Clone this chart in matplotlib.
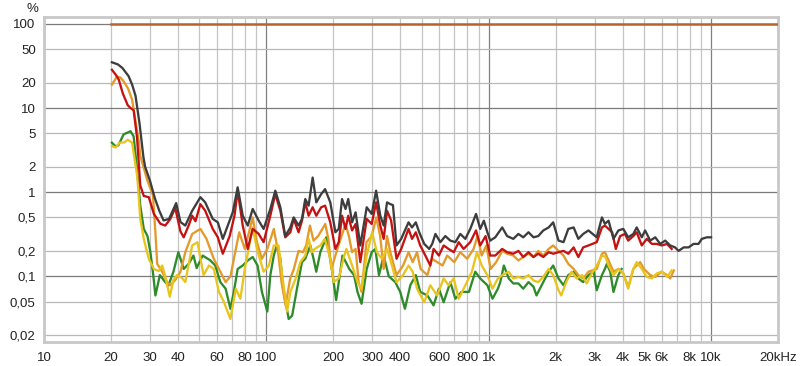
import matplotlib
matplotlib.use("Agg")
import matplotlib.pyplot as plt

# --- data (freq in Hz, level in %) ---
thd_f = [20.2, 21.5, 22.5, 24.0, 24.9, 25.8, 26.9, 28.0, 28.5, 30.0, 31.5, 33.0, 34.5, 36.5, 39.3,
         41.1, 43.2, 46.4, 50.5, 53.1, 57.4, 60.5, 63.7, 67.1, 70.6, 74.3, 78.3, 82.5, 86.8, 92.4,
         97.2, 104.2, 109.7, 115.6, 121.6, 128.2, 132.7, 139.6, 144.6, 149.6, 154.9, 161.5, 167.7,
         176.4, 183.7, 193.9, 204.4, 211.6, 219, 227, 233.5, 243, 252, 264.6, 282.7, 297.8, 311.6,
         325.4, 337, 349, 361, 371, 385, 404, 436, 452, 470, 487, 513, 540, 557, 576, 606, 638, 672,
         708, 745, 785, 826, 877, 916, 951, 986, 1016, 1070, 1150, 1210, 1290, 1360, 1430, 1510,
         1590, 1670, 1760, 1860, 1950, 2060, 2170, 2280, 2410, 2530, 2660, 2810, 3060, 3230, 3330,
         3460, 3640, 3830, 4030, 4240, 4470, 4630, 4880, 5050, 5325, 5610, 5905, 6220, 6550, 6890,
         7140, 7530, 7920, 8340, 8780, 9090, 9570, 10000]
thd_p = [35, 33, 30, 24, 19, 14, 6.5, 2.6, 2.0, 1.35, 0.85, 0.6, 0.46, 0.48, 0.74,
         0.44, 0.40, 0.60, 0.87, 0.755, 0.48, 0.437, 0.278, 0.40, 0.575, 1.14, 0.524, 0.40, 0.63, 0.457,
         0.365, 0.63, 1.04, 0.66, 0.30, 0.38, 0.50, 0.40, 0.48, 0.827, 0.69, 1.49, 0.755,
         0.947, 1.085, 0.755, 0.333, 0.365, 0.827, 0.63, 0.827, 0.437, 0.575, 0.232, 0.66, 0.55, 1.04,
         0.524, 0.40, 0.755, 0.72, 0.70, 0.232, 0.278, 0.437, 0.38, 0.437, 0.333, 0.242, 0.211, 0.242, 0.318, 0.254, 0.30, 0.265,
         0.254, 0.318, 0.278, 0.365, 0.55, 0.365, 0.457, 0.333, 0.265, 0.29, 0.38, 0.30, 0.278, 0.318, 0.29, 0.333,
         0.29, 0.30, 0.35, 0.38, 0.437, 0.265, 0.254, 0.365, 0.38, 0.278, 0.318, 0.35, 0.29, 0.50, 0.42,
         0.457, 0.278, 0.35, 0.365, 0.29, 0.318, 0.38, 0.29, 0.35, 0.265, 0.29, 0.242, 0.265, 0.232, 0.22,
         0.20, 0.22, 0.22, 0.242, 0.242, 0.278, 0.29, 0.29]

h2_f = [20.2, 21.0, 21.7, 22.6, 23.8, 24.5, 25.3, 26.2, 27.1, 28.1, 29.6, 31.2, 33.4, 35.1, 37.0,
        38.9, 41.1, 42.5, 44.7, 46.4, 48.0, 50.5, 53.1, 57.4, 60.5, 63.7, 68.4, 71.9, 74.3, 78.3,
        82.5, 86.8, 92.4, 97.2, 104.2, 109.7, 115.6, 121.6, 128.2, 132.7, 139.6, 144.6, 149.6, 154.9,
        161.5, 167.7, 176.4, 183.7, 193.9, 204.4, 211.6, 219, 227, 233.5, 243, 252, 264.6, 282.7,
        297.8, 311.6, 325.4, 337, 349, 364, 385, 404, 436, 452, 470, 492, 519, 546, 565, 597, 627,
        660, 696, 733, 771, 826, 877, 916, 968, 1016, 1070, 1150, 1210, 1290, 1360, 1430, 1510, 1590,
        1670, 1760, 1860, 1950, 2060, 2170, 2280, 2410, 2530, 2660, 2810, 3060, 3230, 3330, 3460,
        3590, 3730, 3900, 4100, 4240, 4470, 4630, 4880, 5140, 5420, 5700, 6010, 6340, 6650]
h2_p = [28.5, 25, 21.7, 15, 10.8, 10, 9.4, 4.5, 1.2, 0.9, 0.87, 0.55, 0.42, 0.40, 0.48,
        0.65, 0.34, 0.29, 0.40, 0.524, 0.45, 0.72, 0.60, 0.365, 0.29, 0.185, 0.30, 0.524, 1.04, 0.40,
        0.211, 0.365, 0.318, 0.254, 0.524, 0.947, 0.60, 0.29, 0.333, 0.48, 0.333, 0.457, 0.755, 0.524,
        0.66, 0.524, 0.66, 0.69, 0.437, 0.211, 0.254, 0.524, 0.365, 0.524, 0.35, 0.418, 0.147, 0.48,
        0.418, 0.755, 0.40, 0.278, 0.60, 0.46, 0.161, 0.211, 0.365, 0.278, 0.333, 0.232, 0.176, 0.134, 0.211, 0.176, 0.232,
        0.211, 0.193, 0.254, 0.211, 0.254, 0.35, 0.232, 0.30, 0.176, 0.176, 0.211, 0.193, 0.185, 0.20, 0.169, 0.193, 0.169,
        0.185, 0.169, 0.193, 0.185, 0.193, 0.20, 0.185, 0.22, 0.169, 0.22, 0.232, 0.254, 0.38, 0.40, 0.365,
        0.333, 0.211, 0.30, 0.318, 0.265, 0.30, 0.333, 0.232, 0.278, 0.242, 0.242, 0.232, 0.242, 0.211]

h3_f = [20.2, 21.3, 22.1, 22.8, 23.9, 24.9, 25.8, 26.8, 27.1, 29.2, 30.9, 31.7, 32.3, 34.0, 35.8,
        37.0, 38.9, 41.1, 43.2, 46.4, 50.5, 53.8, 58.0, 62.1, 65.6, 69.0, 72.9, 75.5, 80.0, 86.8,
        90.7, 95.5, 101, 108, 113, 117, 122, 128, 132.7, 139.6, 146, 151, 157, 163, 171, 177, 184,
        190, 196, 211, 227, 235, 243, 252, 260, 268, 282, 298, 312, 325, 337, 349, 361, 385, 412,
        436, 455, 476, 494, 530, 556, 620, 650, 700, 745, 800, 855, 890, 930, 975, 1020, 1080, 1150,
        1210, 1290, 1360, 1430, 1510, 1590, 1670, 1760, 1860, 1950, 2060, 2170, 2280, 2410, 2530,
        2660, 2810, 3060, 3230, 3330, 3460, 3640, 3830, 4030, 4240, 4470, 4630, 4800, 4990, 5330,
        5610, 6000, 6340, 6550, 6800]
h3_p = [19, 23.7, 23, 20.8, 17, 12.6, 7, 3.7, 2.7, 1.36, 0.92, 0.33, 0.14, 0.113, 0.085,
        0.078, 0.09, 0.113, 0.193, 0.318, 0.365, 0.278, 0.161, 0.113, 0.085, 0.10, 0.211, 0.333, 0.211, 0.50,
        0.254, 0.161, 0.211, 0.365, 0.193, 0.085, 0.045, 0.094, 0.12, 0.20, 0.193, 0.232, 0.40, 0.265, 0.30, 0.35, 0.418,
        0.278, 0.122, 0.232, 0.418, 0.30, 0.193, 0.211, 0.085, 0.065, 0.254, 0.30, 0.50, 0.30, 0.122, 0.30, 0.193, 0.103, 0.134,
        0.193, 0.147, 0.193, 0.122, 0.103, 0.161, 0.134, 0.176, 0.147, 0.193, 0.161, 0.211, 0.30, 0.176, 0.232, 0.122, 0.147, 0.20,
        0.185, 0.176, 0.154, 0.169, 0.185, 0.169, 0.20, 0.176, 0.211, 0.232, 0.20, 0.176, 0.14, 0.122, 0.103,
        0.094, 0.113, 0.122, 0.185, 0.193, 0.154, 0.113, 0.122, 0.108, 0.074, 0.122, 0.134, 0.147, 0.122, 0.103,
        0.098, 0.113, 0.103, 0.094, 0.117]

h4_f = [20.2, 21.0, 21.6, 22.8, 24.5, 25.3, 26.1, 27.1, 28.1, 29.2, 30.1, 31.0, 31.7, 33.2, 35.1,
        36.3, 38.2, 40.2, 42.5, 44.7, 47.0, 48.6, 51.7, 56.0, 58.9, 62.1, 65.6, 68.9, 71.4, 74.3,
        78.3, 82.5, 86.8, 91.3, 95.5, 101, 104.2, 108, 111.4, 115.6, 119, 126, 130.6, 137.3, 144.6,
        149.6, 157.7, 163, 167.7, 174.9, 186, 196, 206, 215, 220, 236, 248, 257, 268, 282.7, 297.8,
        309, 321, 337, 355, 380, 400, 420, 444, 470, 492, 530, 565, 597, 627, 672, 708, 755, 815,
        870, 916, 986, 1040, 1100, 1127, 1170, 1230, 1290, 1360, 1430, 1510, 1590, 1640, 1730, 1860,
        1950, 2060, 2170, 2280, 2410, 2530, 2660, 2810, 2970, 3060, 3230, 3330, 3400, 3520, 3640,
        3830, 3960]
h4_p = [3.87, 3.5, 3.6, 4.86, 5.3, 4.6, 2.1, 0.69, 0.365, 0.30, 0.193, 0.103, 0.059, 0.103, 0.085,
        0.078, 0.113, 0.193, 0.122, 0.14, 0.176, 0.125, 0.176, 0.154, 0.134, 0.085, 0.071, 0.041, 0.065, 0.122,
        0.134, 0.154, 0.169, 0.134, 0.065, 0.038, 0.103, 0.176, 0.232, 0.161, 0.071, 0.031, 0.034, 0.071, 0.147,
        0.161, 0.232, 0.161, 0.113, 0.193, 0.29, 0.134, 0.052, 0.113, 0.176, 0.122, 0.103, 0.065, 0.047, 0.122, 0.193,
        0.211, 0.103, 0.176, 0.10, 0.085, 0.065, 0.041, 0.078, 0.103, 0.065, 0.059, 0.045, 0.071, 0.049, 0.085, 0.054, 0.065, 0.065,
        0.113, 0.094, 0.078, 0.054, 0.071, 0.085, 0.134, 0.094, 0.082, 0.082, 0.071, 0.085, 0.075, 0.059, 0.078, 0.113,
        0.134, 0.094, 0.078, 0.103, 0.113, 0.094, 0.085, 0.103, 0.113, 0.068, 0.103, 0.122, 0.14, 0.113, 0.065,
        0.103, 0.122]

h5_f = [20.2, 21.0, 21.9, 23.0, 23.8, 24.9, 26.3, 27.1, 28.1, 29.6, 31.2, 32.8, 34.0, 35.1, 35.8,
        36.8, 38.2, 39.6, 41.8, 43.2, 46.4, 49.0, 52.2, 55.2, 58.0, 61.2, 64.5, 68.9, 72.9, 76.4,
        80.0, 86.8, 90.7, 97.2, 102.6, 108, 113.4, 119, 124, 128.2, 135.5, 142.2, 149.6, 154.9, 160,
        165, 175, 183, 194, 201, 211.6, 222, 229, 243, 257, 268, 282.7, 299, 314, 331, 349, 367, 385,
        412, 436, 455, 476, 513, 546, 586, 627, 660, 696, 733, 785, 840, 885, 930, 986, 1040, 1100,
        1150, 1230, 1290, 1360, 1430, 1510, 1590, 1670, 1760, 1860, 1950, 2060, 2120, 2230, 2360,
        2490, 2630, 2760, 2910, 3060, 3240, 3350, 3460, 3640, 3830, 4030, 4240, 4470, 4630, 4880,
        5140, 5420, 5700, 6010, 6340, 6650]
h5_p = [3.53, 3.4, 3.87, 3.9, 4.2, 3.87, 1.5, 0.48, 0.278, 0.161, 0.122, 0.115, 0.134, 0.10, 0.078,
        0.057, 0.09, 0.103, 0.095, 0.085, 0.232, 0.254, 0.103, 0.134, 0.122, 0.065, 0.049, 0.031, 0.071, 0.054,
        0.122, 0.38, 0.211, 0.113, 0.134, 0.232, 0.232, 0.085, 0.038, 0.065, 0.094, 0.147, 0.176, 0.278, 0.193,
        0.211, 0.232, 0.278, 0.161, 0.085, 0.094, 0.161, 0.211, 0.134, 0.085, 0.071, 0.176, 0.333, 0.193, 0.161, 0.211, 0.134, 0.085,
        0.103, 0.134, 0.113, 0.071, 0.049, 0.078, 0.059, 0.094, 0.078, 0.094, 0.054, 0.078, 0.113, 0.193, 0.134, 0.103, 0.071, 0.094,
        0.103, 0.113, 0.094, 0.098, 0.094, 0.103, 0.089, 0.085, 0.098, 0.122, 0.103, 0.068, 0.059, 0.085, 0.113,
        0.094, 0.103, 0.082, 0.108, 0.134, 0.176, 0.169, 0.134, 0.103, 0.122, 0.108, 0.071, 0.122, 0.147, 0.122,
        0.098, 0.094, 0.108, 0.113, 0.098, 0.117]

limit_f = [20, 20000]
limit_p = [100, 100]

x_ticks = [10, 20, 30, 40, 60, 80, 100, 200, 300, 400, 600, 800, 1000, 2000, 3000, 4000, 5000,
           6000, 8000, 10000, 20000]
x_labels = ["10", "20", "30", "40", "60", "80", "100", "200", "300", "400", "600", "800", "1k",
            "2k", "3k", "4k", "5k", "6k", "8k", "10k", "20kHz"]
y_ticks = [0.02, 0.05, 0.1, 0.2, 0.5, 1, 2, 5, 10, 20, 50, 100]
y_labels = ["0,02", "0,05", "0,1", "0,2", "0,5", "1", "2", "5", "10", "20", "50", "100"]

plt.rcParams['font.family'] = ['Liberation Sans', 'DejaVu Sans']

fig = plt.figure(figsize=(8, 3.66), dpi=100)
ax = fig.add_axes([0.055, 0.0656, 0.9175, 0.888])
ax.set_xscale("log")
ax.set_yscale("log")
ax.set_xlim(10, 20000)
ax.set_ylim(0.0165, 121)

# grid: decades darker, the rest lighter
decades_x = [10, 100, 1000, 10000]
for d in [10, 100, 1000]:
    for m in range(2, 10):
        ax.axvline(d * m, color="#c4c4c4", lw=0.9, zorder=0)
for d in decades_x:
    ax.axvline(d, color="#808080", lw=0.9, zorder=0)
for v in y_ticks:
    dark = v in (0.1, 1, 10, 100)
    ax.axhline(v, color="#7a7a7a" if dark else "#b8b8b8", lw=0.9, zorder=0)

lw = 1.65
ax.plot(limit_f, limit_p, color="#b9652a", lw=1.8, zorder=3)
ax.plot(h4_f, h4_p, color="#2e8b2a", lw=lw)
ax.plot(h3_f, h3_p, color="#e39a2a", lw=lw)
ax.plot(h5_f, h5_p, color="#e8c41c", lw=lw)
ax.plot(h2_f, h2_p, color="#c41212", lw=lw)
ax.plot(thd_f, thd_p, color="#3d3d3d", lw=lw)

ax.xaxis.set_major_locator(matplotlib.ticker.FixedLocator(x_ticks))
ax.xaxis.set_major_formatter(matplotlib.ticker.FixedFormatter(x_labels))
ax.xaxis.set_minor_locator(matplotlib.ticker.NullLocator())
ax.yaxis.set_major_locator(matplotlib.ticker.FixedLocator(y_ticks))
ax.yaxis.set_major_formatter(matplotlib.ticker.FixedFormatter(y_labels))
ax.yaxis.set_minor_locator(matplotlib.ticker.NullLocator())
ax.tick_params(length=0, labelsize=9.5, colors="#222222")
ax.tick_params(axis="x", pad=7)
ax.tick_params(axis="y", pad=6)

for s in ax.spines.values():
    s.set_color("#c8c8c8")
    s.set_linewidth(2)

fig.text(0.04, 0.975, "%", fontsize=9.5, ha="center", va="center", color="#222222")

fig.savefig("out.png", dpi=100, facecolor="white")
